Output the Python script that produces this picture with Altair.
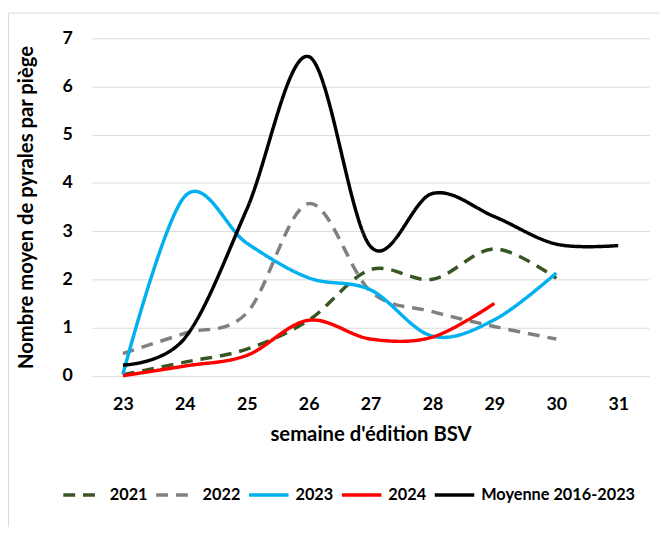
import altair as alt
import pandas as pd

weeks = [23, 24, 25, 26, 27, 28, 29, 30, 31]
series_names = ["2021", "2022", "2023", "2024", "Moyenne 2016-2023"]
v2021 = [0.02, 0.28, 0.55, 1.15, 2.2, 2.0, 2.63, 2.02, None]
v2022 = [0.46, 0.88, 1.3, 3.57, 1.75, 1.33, 1.02, 0.76, None]
v2023 = [0.03, 3.72, 2.75, 2.03, 1.78, 0.82, 1.16, 2.13, None]
v2024 = [0.0, 0.2, 0.42, 1.15, 0.76, 0.8, 1.5, None, None]
vmoy = [0.22, 0.78, 3.45, 6.62, 2.68, 3.78, 3.3, 2.73, 2.7]
colors = ["#375623", "#808080", "#00B0F0", "#FF0000", "#000000"]
dashes = [[12, 8], [12, 8], [1, 0], [1, 0], [1, 0]]
widths = [3.5, 3.5, 3.5, 3.5, 4]

rows = []
for name, vals in zip(series_names, [v2021, v2022, v2023, v2024, vmoy]):
    for w, v in zip(weeks, vals):
        if v is not None:
            rows.append({"semaine": str(w), "valeur": v, "serie": name})
df = pd.DataFrame(rows)

FONT = "Lato"

lines = alt.Chart(df).mark_line(interpolate="cardinal").encode(
    x=alt.X("semaine:O", sort=[str(w) for w in weeks],
            scale=alt.Scale(type="point", padding=0.5),
            axis=alt.Axis(title="semaine d'édition BSV", labelAngle=0, ticks=False,
                          domain=False, grid=False, labelPadding=20, titlePadding=12)),
    y=alt.Y("valeur:Q", scale=alt.Scale(domain=[0, 7], nice=False),
            axis=alt.Axis(title="Nombre moyen de pyrales par piège", values=list(range(8)),
                          ticks=False, domain=False, labelPadding=20, titlePadding=26,
                          gridColor="#d9d9d9", gridWidth=1)),
    color=alt.Color("serie:N", scale=alt.Scale(domain=series_names, range=colors),
                    sort=series_names,
                    legend=alt.Legend(title=None, orient="none", direction="horizontal",
                                      legendX=-31, legendY=440, symbolType="stroke",
                                      symbolSize=1600, symbolStrokeWidth=4,
                                      columnPadding=1, labelOffset=5, labelLimit=300)),
    strokeDash=alt.StrokeDash("serie:N", scale=alt.Scale(domain=series_names, range=dashes),
                              sort=series_names, legend=alt.Legend(title=None)),
    strokeWidth=alt.StrokeWidth("serie:N", scale=alt.Scale(domain=series_names, range=widths),
                                legend=None),
    order=alt.Order("semaine:O"),
)

frame_df = pd.DataFrame({"k": [0]})
frame = alt.Chart(frame_df).mark_rect(fillOpacity=0, stroke="#d9d9d9", strokeWidth=1).encode(
    x=alt.value(-84.5), x2=alt.value(620), y=alt.value(-25.5), y2=alt.value(560))

chart = alt.layer(frame, lines).properties(
    width=564, height=341.5,
    autosize=alt.AutoSizeParams(type="none"),
    padding={"left": 85, "top": 27.5, "right": 11, "bottom": 150},
).configure_view(stroke=None).configure_axis(
    labelFont=FONT, labelFontSize=18, labelFontWeight="bold", labelColor="#000000",
    titleFont=FONT, titleFontSize=20.5, titleFontWeight="bold", titleColor="#000000",
).configure_legend(
    labelFont=FONT, labelFontSize=16.5, labelFontWeight="bold", labelColor="#000000",
)

chart.save("out.html", embed_options={"renderer": "svg", "actions": False})
